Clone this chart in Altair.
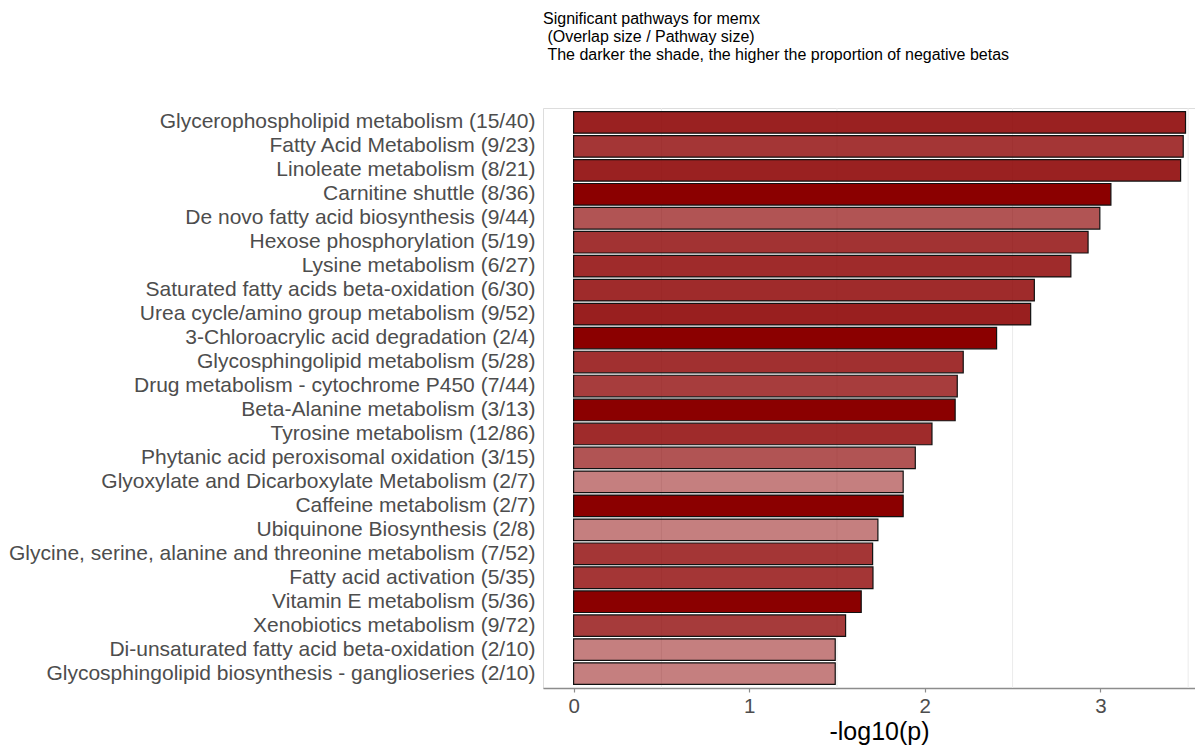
import altair as alt
import pandas as pd

pathways = [
    "Glycerophospholipid metabolism (15/40)",
    "Fatty Acid Metabolism (9/23)",
    "Linoleate metabolism (8/21)",
    "Carnitine shuttle (8/36)",
    "De novo fatty acid biosynthesis (9/44)",
    "Hexose phosphorylation (5/19)",
    "Lysine metabolism (6/27)",
    "Saturated fatty acids beta-oxidation (6/30)",
    "Urea cycle/amino group metabolism (9/52)",
    "3-Chloroacrylic acid degradation (2/4)",
    "Glycosphingolipid metabolism (5/28)",
    "Drug metabolism - cytochrome P450 (7/44)",
    "Beta-Alanine metabolism (3/13)",
    "Tyrosine metabolism (12/86)",
    "Phytanic acid peroxisomal oxidation (3/15)",
    "Glyoxylate and Dicarboxylate Metabolism (2/7)",
    "Caffeine metabolism (2/7)",
    "Ubiquinone Biosynthesis (2/8)",
    "Glycine, serine, alanine and threonine metabolism (7/52)",
    "Fatty acid activation (5/35)",
    "Vitamin E metabolism (5/36)",
    "Xenobiotics metabolism (9/72)",
    "Di-unsaturated fatty acid beta-oxidation (2/10)",
    "Glycosphingolipid biosynthesis - ganglioseries (2/10)",
]
neglog10p = [3.485, 3.472, 3.457, 3.06, 2.997, 2.93, 2.832, 2.624, 2.603, 2.409,
             2.219, 2.185, 2.173, 2.041, 1.946, 1.877, 1.877, 1.733, 1.703, 1.705,
             1.638, 1.549, 1.49, 1.49]
neg_prop = [0.87, 0.79, 0.87, 1.0, 0.67, 0.8, 0.83, 0.83, 0.88, 1.0,
            0.81, 0.76, 1.0, 0.83, 0.67, 0.5, 1.0, 0.5, 0.79, 0.79,
            1.0, 0.77, 0.5, 0.5]
minor_grid = [0.5, 1.5, 2.5, 3.5]
x_ticks = [0, 1, 2, 3]

df = pd.DataFrame({"pathway": pathways, "val": neglog10p, "prop": neg_prop})
gdf = pd.DataFrame({"g": minor_grid})

FONT = "Liberation Sans"
xscale = alt.Scale(domain=[-0.1743, 3.539], nice=False, zero=False)

grid = alt.Chart(gdf).mark_rule(color="#EBEBEB", strokeWidth=1).encode(
    x=alt.X("g:Q", scale=xscale)
)

bars = alt.Chart(df).mark_bar(
    color="#8B0000", stroke="#111111", strokeWidth=1.2
).encode(
    x=alt.X(
        "val:Q",
        scale=xscale,
        title="-log10(p)",
        axis=alt.Axis(
            values=x_ticks, grid=False, domainColor="#8C8C8C", domainWidth=1.5,
            tickColor="#8C8C8C", tickSize=4, tickWidth=1.2,
            labelFont=FONT, labelFontSize=20.5, labelColor="#4D4D4D", labelPadding=4,
            titleFont=FONT, titleFontSize=25, titleFontWeight="normal",
            titleColor="#000000", titlePadding=3, format="d",
            titleX=336, titleAlign="center", titleAnchor="start",
        ),
    ),
    x2=alt.value(30),
    y=alt.Y(
        "pathway:N",
        sort=pathways,
        title=None,
        scale=alt.Scale(paddingInner=0.1, paddingOuter=0.15),
        axis=alt.Axis(
            ticks=False, domain=False, labelFont=FONT, labelFontSize=21,
            labelColor="#4D4D4D", labelPadding=8, labelLimit=800,
            minExtent=535, maxExtent=535,
        ),
    ),
    fillOpacity=alt.FillOpacity("prop:Q", scale=alt.Scale(domain=[0, 1], range=[0, 1]), legend=None),
)

chart = alt.layer(grid, bars).properties(
    width=652,
    height=580,
    padding={"left": 0, "top": 2, "right": 0, "bottom": 0},
    title=alt.TitleParams(
        text=[
            "Significant pathways for memx",
            "\u200b\u00a0(Overlap size / Pathway size)",
            "\u200b\u00a0The darker the shade, the higher the proportion of negative betas",
        ],
        anchor="start",
        frame="group",
        font=FONT,
        fontSize=16,
        fontWeight="normal",
        color="#000000",
        lineHeight=18,
        offset=45,
    ),
).configure_view(stroke="#A6A6A6", strokeWidth=1.2).configure(background="white")

chart.save("out.html", embed_options={"renderer": "svg", "actions": False})
